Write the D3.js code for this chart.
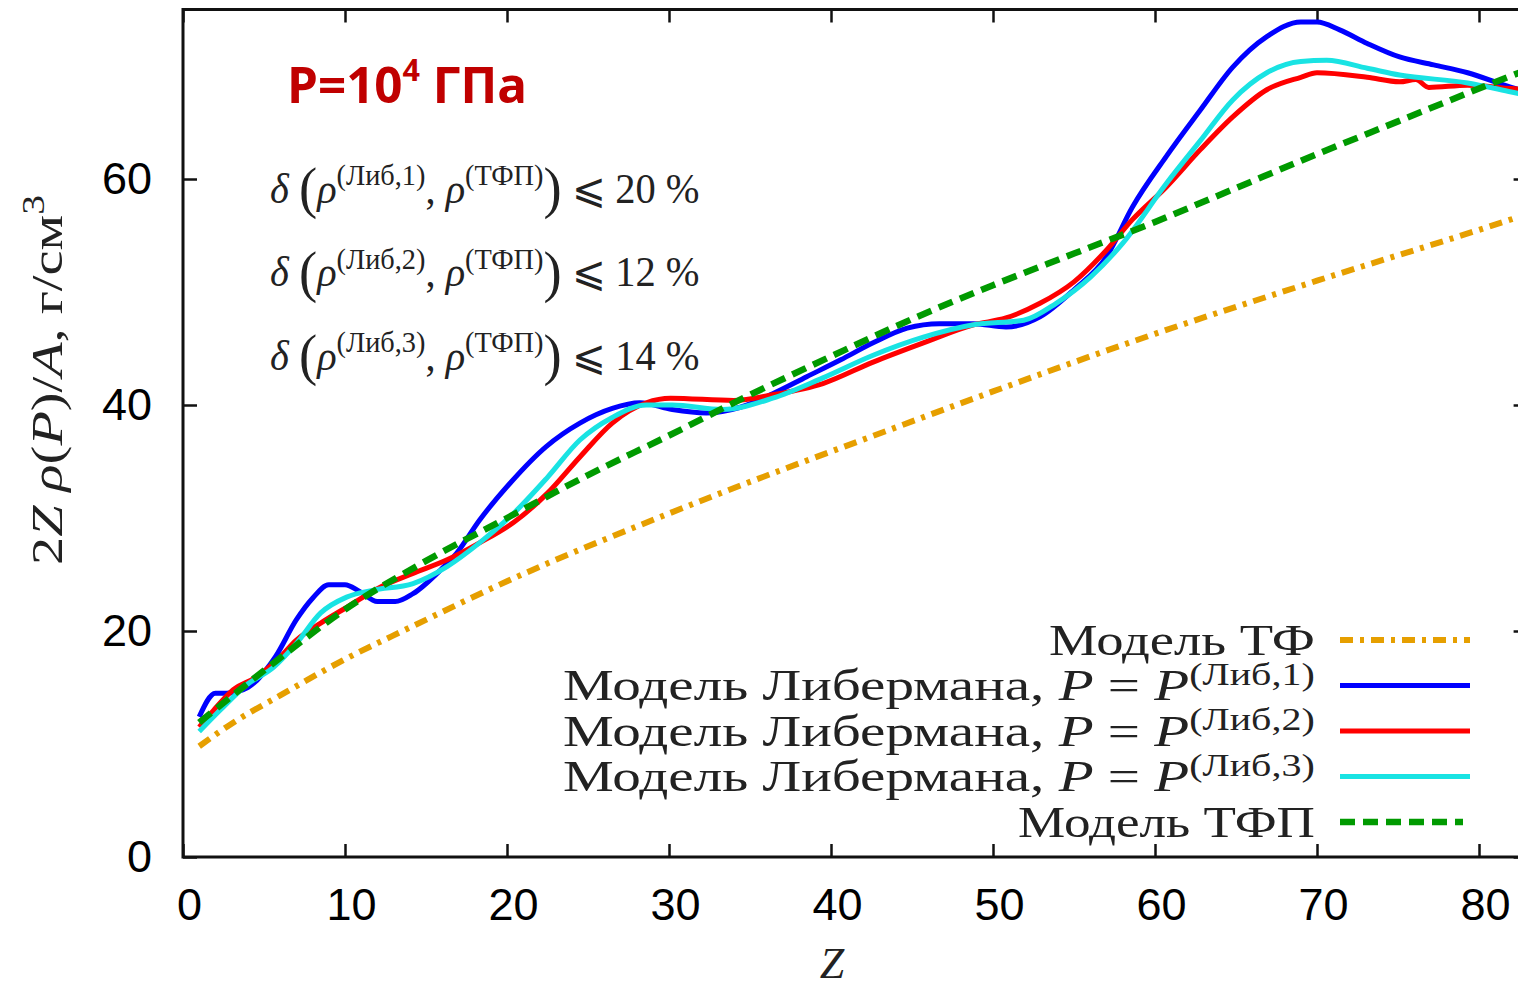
<!DOCTYPE html>
<html>
<head>
<meta charset="utf-8">
<script src="https://cdn.jsdelivr.net/npm/d3@7"></script>
<style>
body { margin: 0; background: #fff; }
svg { display: block; }
</style>
</head>
<body>
<svg id="chart" width="1518" height="989"></svg>
<script>
// values: Z and 2Z*rho(P)/A
const zTF = [1, 3, 6, 10, 14, 20, 30, 43.6, 50, 60, 70, 80, 83];
const rhoTF = [9.8, 11.8, 14.3, 17.5, 20.3, 24.4, 30.4, 37.8, 41.2, 46.3, 51.0, 55.5, 56.9];

const zLib1 = [1, 2, 2.7, 4, 5.7, 7, 8, 9, 10, 10.9, 12, 13.1, 14.2, 15.9, 16.9, 18.3, 20.2, 22.4, 24.5, 26.5, 28.2, 30.2, 32.3, 34.4, 36.4, 38.5, 40.6, 42.6, 44.7, 46.7, 48.8, 50.8, 52.9, 55, 57, 58.6, 60.7, 62.8, 64.8, 66.9, 69, 70, 71.4, 73.1, 75.1, 77.2, 79.3, 82, 83];
const rhoLib1 = [12.4, 14.5, 14.5, 15.0, 17.7, 21.0, 22.9, 24.1, 24.1, 23.5, 22.6, 22.6, 23.3, 25.4, 26.9, 29.8, 33.1, 36.3, 38.4, 39.7, 40.2, 39.6, 39.3, 39.8, 41.0, 42.5, 44.0, 45.5, 46.8, 47.2, 47.2, 46.9, 47.8, 50.2, 53.1, 57.5, 62.0, 66.1, 69.9, 72.6, 73.9, 73.9, 73.2, 72.0, 70.8, 70.1, 69.4, 68.1, 67.7];

const zLib2 = [1, 1.9, 3.1, 4.5, 5.8, 7, 8.5, 10.1, 12.2, 14.2, 16.3, 18.3, 20.4, 22.5, 24.5, 26.5, 28.6, 30.1, 34, 36.4, 39.5, 42.6, 45.7, 48.8, 50.8, 52.9, 55, 57, 58.6, 60.7, 62.8, 64.8, 66.9, 69, 70, 73.1, 75.1, 76.1, 76.9, 79.3, 82, 83];
const rhoLib2 = [11.5, 13.0, 14.8, 15.9, 17.4, 19.2, 20.7, 22.1, 23.9, 25.1, 26.3, 27.8, 29.6, 32.2, 35.4, 38.4, 40.2, 40.6, 40.4, 40.9, 41.9, 43.8, 45.5, 47.1, 47.7, 49.0, 50.9, 53.7, 56.4, 59.3, 62.6, 65.5, 67.9, 69.0, 69.4, 69.0, 68.6, 68.8, 68.1, 68.3, 68.0, 67.9];

const zLib3 = [1, 2.3, 3.9, 5.6, 7, 8.5, 10.1, 11.7, 14.2, 16.3, 18.3, 20.4, 22.5, 24.5, 26.5, 28.6, 30.2, 33.3, 36.4, 39.5, 42.6, 45.7, 48.8, 51.9, 53.9, 56, 58, 60.7, 62.8, 64.8, 66.9, 69, 70.6, 73.1, 75.1, 79.3, 82, 83];
const rhoLib3 = [11.1, 13.0, 15.2, 16.8, 18.9, 21.6, 23.0, 23.6, 24.2, 25.7, 27.8, 30.4, 33.6, 36.9, 38.9, 40.0, 40.0, 39.6, 40.6, 42.4, 44.4, 46.0, 47.1, 47.5, 49.0, 51.3, 54.3, 59.6, 63.4, 67.0, 69.4, 70.4, 70.5, 69.8, 69.2, 68.5, 67.7, 67.4];

const zTFP = [1, 5, 10, 15, 20, 25, 30, 35, 40, 45, 50, 55, 60, 65, 70, 75, 80, 83];
const rhoTFP = [11.9, 16.5, 21.9, 26.2, 30.0, 33.8, 37.3, 40.9, 44.3, 47.6, 50.6, 53.4, 56.2, 59.2, 62.2, 65.1, 68.0, 69.7];

const xTicks = [0, 10, 20, 30, 40, 50, 60, 70, 80];
const yTicks = [0, 20, 40, 60];
const deltaLimits = ["20", "12", "14"];

const SERIF = '"Liberation Serif", "DejaVu Serif", serif';
const SANS = '"Liberation Sans", Arial, sans-serif';

let svg = d3.select("#chart");

let x = d3.scaleLinear().domain([0, 83]).range([183, 183 + 83 * 16.2]);
let y = d3.scaleLinear().domain([0, 75]).range([857, 857 - 75 * 11.3]);

svg.append("clipPath").attr("id", "plotclip")
    .append("rect")
    .attr("x", x(0)).attr("y", y(75))
    .attr("width", x(83) - x(0)).attr("height", y(0) - y(75));

// axes (ticks point inward, gnuplot style)
function styleAxis(g) {
    g.select(".domain").remove();
    g.selectAll(".tick line").attr("stroke", "#111").attr("stroke-width", 2.5);
    g.selectAll(".tick text").attr("font-family", SANS).attr("font-size", 45).attr("fill", "#000");
}

svg.append("g")
    .attr("transform", `translate(0,${y(0)})`)
    .call(d3.axisBottom(x).tickValues(xTicks).tickSize(-13).tickPadding(31).tickFormat(d3.format("d")))
    .call(styleAxis)
    .selectAll(".tick text").attr("dx", 6);

svg.append("g")
    .attr("transform", `translate(0,${y(75)})`)
    .call(d3.axisTop(x).tickValues(xTicks).tickSize(-13).tickFormat(""))
    .call(styleAxis);

svg.append("g")
    .attr("transform", `translate(${x(0)},0)`)
    .call(d3.axisLeft(y).tickValues(yTicks).tickSize(-14).tickPadding(31).tickFormat(d3.format("d")))
    .call(styleAxis);

svg.append("g")
    .attr("transform", `translate(${x(83)},0)`)
    .call(d3.axisRight(y).tickValues(yTicks).tickSize(-14).tickFormat(""))
    .call(styleAxis);

svg.append("rect")
    .attr("x", x(0)).attr("y", y(75))
    .attr("width", x(83) - x(0)).attr("height", y(0) - y(75))
    .attr("fill", "none").attr("stroke", "#111").attr("stroke-width", 3);

// series
let series = [
    { z: zTF, v: rhoTF, color: "#e69f00", width: 6, dash: "13,7,4,7", label: [{ t: "Модель ТФ" }] },
    { z: zLib1, v: rhoLib1, color: "#0000ff", width: 5, dash: null,
      label: [{ t: "Модель Либермана, " }, { t: "P", i: 1 }, { t: " = " }, { t: "P", i: 1 }, { t: "(Либ,1)", sup: 1 }] },
    { z: zLib2, v: rhoLib2, color: "#ff0000", width: 5, dash: null,
      label: [{ t: "Модель Либермана, " }, { t: "P", i: 1 }, { t: " = " }, { t: "P", i: 1 }, { t: "(Либ,2)", sup: 1 }] },
    { z: zLib3, v: rhoLib3, color: "#19e3e3", width: 5, dash: null,
      label: [{ t: "Модель Либермана, " }, { t: "P", i: 1 }, { t: " = " }, { t: "P", i: 1 }, { t: "(Либ,3)", sup: 1 }] },
    { z: zTFP, v: rhoTFP, color: "#009a00", width: 6.5, dash: "15,8", label: [{ t: "Модель ТФП" }] }
];

let line = d3.line()
    .x(d => x(d[0]))
    .y(d => y(d[1]))
    .curve(d3.curveMonotoneX);

let plot = svg.append("g").attr("clip-path", "url(#plotclip)");
series.forEach(s => {
    plot.append("path")
        .datum(d3.zip(s.z, s.v))
        .attr("d", line)
        .attr("fill", "none")
        .attr("stroke", s.color)
        .attr("stroke-width", s.width)
        .attr("stroke-dasharray", s.dash)
        .attr("stroke-linejoin", "round");
});

// rich text helper: italic, superscripts, big brackets
function rich(t, parts, fs, supRaise) {
    let cur = 0;
    parts.forEach(p => {
        let shift = p.sup ? -fs * (supRaise || 0.42) : (p.big ? fs * 0.1 : 0);
        let s = t.append("tspan").attr("dy", shift - cur).text(p.t);
        cur = shift;
        s.attr("font-size", p.sup ? fs * 0.7 : (p.big ? fs * 1.35 : fs));
        if (p.i) s.attr("font-style", "italic");
    });
}

// squeeze/stretch a text horizontally so it spans x0..x1
function fitText(g, t, x0, x1) {
    let b = t.node().getBBox();
    let k = (x1 - x0) / b.width;
    g.attr("transform", `translate(${x0},0) scale(${k},1) translate(${-b.x},0)`);
}

// legend
let legendLeft = [1049, 563, 563, 563, 1018];
series.forEach((s, i) => {
    let ly = 640 + i * 45.5;
    let g = svg.append("g");
    let t = g.append("text")
        .attr("x", 0).attr("y", ly + 15)
        .attr("font-family", SERIF).attr("fill", "#222");
    rich(t, s.label, 44, 0.36);
    fitText(g, t, legendLeft[i], 1315);
    svg.append("line")
        .attr("x1", 1340).attr("x2", s.dash === "15,8" ? 1463 : 1470)
        .attr("y1", ly).attr("y2", ly)
        .attr("stroke", s.color).attr("stroke-width", s.width)
        .attr("stroke-dasharray", s.dash);
});

// delta annotations
deltaLimits.forEach((d, i) => {
    let g = svg.append("g");
    let t = g.append("text")
        .attr("x", 0).attr("y", 203 + i * 83.5)
        .attr("font-family", SERIF).attr("fill", "#222");
    rich(t, [
        { t: "δ ", i: 1 }, { t: "(", big: 1 }, { t: "ρ", i: 1 }, { t: `(Либ,${i + 1})`, sup: 1 },
        { t: ", " }, { t: "ρ", i: 1 }, { t: "(ТФП)", sup: 1 }, { t: ")", big: 1 },
        { t: " ⩽ " + d + " %" }
    ], 42);
    fitText(g, t, 270, 700);
});

// pressure title
let tg = svg.append("g");
let tt = tg.append("text")
    .attr("x", 0).attr("y", 103)
    .attr("font-family", '"Open Sans", "Liberation Sans", sans-serif')
    .attr("font-weight", 700).attr("fill", "#c00000");
tt.append("tspan").attr("font-size", 50).text("P=10");
tt.append("tspan").attr("font-size", 31).attr("dy", -22).text("4");
tt.append("tspan").attr("font-size", 50).attr("dy", 22).text(" ГПа");
fitText(tg, tt, 287, 527);

// y axis title
let yg = svg.append("g");
let yt = yg.append("text")
    .attr("x", 0).attr("y", 0)
    .attr("font-family", SERIF).attr("fill", "#222");
rich(yt, [
    { t: "2" }, { t: "Z", i: 1 }, { t: " " }, { t: "ρ", i: 1 }, { t: "(" }, { t: "P", i: 1 },
    { t: ")/" }, { t: "A", i: 1 }, { t: ", г/см" }, { t: "3", sup: 1 }
], 44);
let yb = yt.node().getBBox();
yg.attr("transform", `translate(62,565) rotate(-90) scale(${370 / yb.width},1) translate(${-yb.x},0)`);

// x axis title
svg.append("text")
    .attr("x", 832).attr("y", 978)
    .attr("text-anchor", "middle")
    .attr("font-family", SERIF).attr("font-style", "italic")
    .attr("font-size", 44).attr("fill", "#222")
    .text("Z");
</script>
</body>
</html>
